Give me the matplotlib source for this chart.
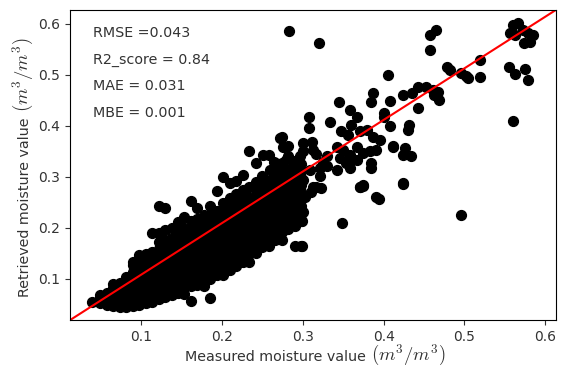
import matplotlib
matplotlib.use("Agg")
import matplotlib.pyplot as plt

plt.rcParams["mathtext.fontset"] = "cm"

# dense core of the cloud, one line per measured-value column
core_x = (
    [0.040]
    + [0.050] * 3
    + [0.058] * 3
    + [0.066] * 5
    + [0.074] * 5
    + [0.082] * 6
    + [0.090] * 8
    + [0.098] * 8
    + [0.106] * 8
    + [0.114] * 9
    + [0.122] * 11
    + [0.130] * 11
    + [0.138] * 10
    + [0.146] * 11
    + [0.154] * 11
    + [0.162] * 12
    + [0.170] * 11
    + [0.178] * 11
    + [0.186] * 12
    + [0.194] * 11
    + [0.202] * 12
    + [0.210] * 12
    + [0.218] * 12
    + [0.226] * 12
    + [0.234] * 12
    + [0.242] * 12
    + [0.250] * 11
    + [0.258] * 11
    + [0.266] * 11
    + [0.274] * 12
    + [0.282] * 11
    + [0.290] * 11
    + [0.298] * 10
)
core_y = [
    0.055,
    0.052, 0.062, 0.068,
    0.050, 0.060, 0.072,
    0.048, 0.058, 0.070, 0.082, 0.090,
    0.046, 0.056, 0.068, 0.080, 0.092,
    0.045, 0.058, 0.070, 0.084, 0.096, 0.104,
    0.047, 0.060, 0.072, 0.086, 0.100, 0.114, 0.128, 0.133,
    0.050, 0.062, 0.076, 0.090, 0.104, 0.118, 0.132, 0.146,
    0.052, 0.064, 0.078, 0.092, 0.106, 0.120, 0.134, 0.148,
    0.054, 0.068, 0.082, 0.096, 0.110, 0.124, 0.138, 0.152, 0.190,
    0.060, 0.074, 0.088, 0.102, 0.116, 0.130, 0.144, 0.158, 0.172, 0.190, 0.243,
    0.064, 0.078, 0.092, 0.106, 0.120, 0.134, 0.148, 0.162, 0.176, 0.196, 0.239,
    0.068, 0.082, 0.096, 0.110, 0.124, 0.138, 0.152, 0.166, 0.180, 0.200,
    0.072, 0.086, 0.100, 0.114, 0.128, 0.142, 0.156, 0.170, 0.184, 0.198, 0.212,
    0.070, 0.088, 0.102, 0.116, 0.130, 0.144, 0.158, 0.172, 0.186, 0.200, 0.222,
    0.056, 0.086, 0.100, 0.114, 0.128, 0.142, 0.156, 0.170, 0.184, 0.198, 0.214, 0.252,
    0.088, 0.102, 0.116, 0.130, 0.144, 0.158, 0.172, 0.186, 0.200, 0.218, 0.239,
    0.086, 0.100, 0.114, 0.128, 0.142, 0.156, 0.170, 0.184, 0.198, 0.212, 0.226,
    0.063, 0.100, 0.114, 0.128, 0.142, 0.156, 0.170, 0.184, 0.198, 0.212, 0.226, 0.243,
    0.108, 0.122, 0.136, 0.150, 0.164, 0.178, 0.192, 0.206, 0.220, 0.234, 0.272,
    0.108, 0.122, 0.136, 0.150, 0.164, 0.178, 0.192, 0.206, 0.220, 0.234, 0.248, 0.300,
    0.118, 0.132, 0.146, 0.160, 0.174, 0.188, 0.202, 0.216, 0.230, 0.244, 0.258, 0.288,
    0.126, 0.140, 0.154, 0.168, 0.182, 0.196, 0.210, 0.224, 0.238, 0.252, 0.266, 0.291,
    0.134, 0.148, 0.162, 0.176, 0.190, 0.204, 0.218, 0.232, 0.246, 0.260, 0.274, 0.304,
    0.134, 0.148, 0.162, 0.176, 0.190, 0.204, 0.218, 0.232, 0.246, 0.260, 0.280, 0.350,
    0.150, 0.164, 0.178, 0.192, 0.206, 0.220, 0.234, 0.248, 0.262, 0.276, 0.290, 0.327,
    0.163, 0.176, 0.190, 0.204, 0.218, 0.232, 0.246, 0.260, 0.274, 0.288, 0.302,
    0.165, 0.180, 0.194, 0.208, 0.222, 0.236, 0.250, 0.264, 0.278, 0.292, 0.343,
    0.176, 0.190, 0.204, 0.218, 0.232, 0.246, 0.260, 0.274, 0.288, 0.304, 0.327,
    0.176, 0.192, 0.206, 0.220, 0.234, 0.248, 0.262, 0.276, 0.290, 0.306, 0.327, 0.379,
    0.198, 0.212, 0.226, 0.240, 0.254, 0.268, 0.282, 0.296, 0.314, 0.340, 0.361,
    0.165, 0.204, 0.218, 0.232, 0.246, 0.260, 0.274, 0.288, 0.302, 0.318, 0.332,
    0.165, 0.214, 0.228, 0.242, 0.256, 0.270, 0.284, 0.298, 0.312, 0.326,
]

# looser points in the middle of the range
mid_x = [
    0.272, 0.276, 0.301, 0.311, 0.313, 0.301, 0.297, 0.342, 0.350, 0.358,
    0.346, 0.367, 0.383, 0.391, 0.412, 0.251, 0.264, 0.280, 0.260, 0.272,
    0.288, 0.330, 0.342, 0.356, 0.358, 0.385, 0.309, 0.321, 0.313, 0.323,
    0.371, 0.375, 0.424, 0.247, 0.260, 0.272, 0.284, 0.293, 0.301, 0.391,
    0.345, 0.358, 0.367, 0.360, 0.334, 0.308, 0.308, 0.348, 0.356, 0.371,
    0.379, 0.387, 0.395, 0.400, 0.408, 0.387, 0.385, 0.424, 0.430, 0.408,
    0.406, 0.400, 0.432, 0.412, 0.426, 0.434, 0.424, 0.385, 0.358, 0.354,
    0.367, 0.375, 0.317, 0.325, 0.330, 0.322, 0.303, 0.310, 0.295, 0.300,
]
mid_y = [
    0.376, 0.359, 0.366, 0.369, 0.353, 0.350, 0.340, 0.359, 0.353, 0.343,
    0.337, 0.359, 0.350, 0.353, 0.359, 0.343, 0.330, 0.333, 0.314, 0.317,
    0.320, 0.322, 0.314, 0.330, 0.317, 0.317, 0.314, 0.301, 0.281, 0.278,
    0.281, 0.284, 0.288, 0.288, 0.294, 0.288, 0.281, 0.271, 0.294, 0.261,
    0.446, 0.431, 0.418, 0.402, 0.408, 0.417, 0.395, 0.389, 0.382, 0.389,
    0.392, 0.379, 0.373, 0.418, 0.399, 0.464, 0.446, 0.461, 0.392, 0.448,
    0.500, 0.425, 0.402, 0.361, 0.356, 0.340, 0.343, 0.327, 0.340, 0.327,
    0.333, 0.346, 0.345, 0.330, 0.340, 0.318, 0.260, 0.270, 0.245, 0.232,
]

# upper-right points and outliers
high_x = [
    0.478, 0.482, 0.496, 0.502, 0.504, 0.519, 0.519, 0.555, 0.562, 0.575,
    0.578, 0.560, 0.467, 0.469, 0.462, 0.461, 0.443, 0.435, 0.443, 0.453,
    0.283, 0.3205, 0.457, 0.465, 0.457, 0.560, 0.566, 0.556, 0.562, 0.572,
    0.579, 0.585, 0.581, 0.574,
]
high_y = [
    0.516, 0.510, 0.503, 0.497, 0.494, 0.529, 0.495, 0.515, 0.502, 0.512,
    0.490, 0.410, 0.467, 0.451, 0.461, 0.471, 0.435, 0.464, 0.476, 0.476,
    0.585, 0.562, 0.578, 0.587, 0.549, 0.598, 0.601, 0.582, 0.578, 0.588,
    0.582, 0.578, 0.565, 0.562,
]
low_x = [0.371, 0.375, 0.424, 0.394, 0.496, 0.349, 0.2995, 0.2995, 0.317]
low_y = [0.280, 0.282, 0.286, 0.256, 0.225, 0.209, 0.214, 0.165, 0.280]

stats = ["RMSE =0.043", "R2_score = 0.84", "MAE = 0.031", "MBE = 0.001"]
unit = r"$(m^3/m^3)$"

x = core_x + mid_x + high_x + low_x
y = core_y + mid_y + high_y + low_y

W, H = 561, 367
fig = plt.figure(figsize=(W / 100, H / 100), dpi=100)
ax = fig.add_axes([0.125, 0.128, 0.866, 0.845])
ax.scatter(x, y, s=50, color="black")

ax.set_xlim(0.0127, 0.613)
ax.set_ylim(0.0196, 0.627)
xl = ax.get_xlim()
yl = ax.get_ylim()
ax.plot(xl, yl, color="red", lw=1.5)

for i, s in enumerate(stats):
    ax.text(0.047, 0.926 - i * 0.086, s, transform=ax.transAxes,
            fontsize=10.3, va="center", color="#333333")

ax.set_xticks([0.1, 0.2, 0.3, 0.4, 0.5, 0.6])
ax.set_yticks([0.1, 0.2, 0.3, 0.4, 0.5, 0.6])
ax.tick_params(labelsize=10, colors="#333333")

# axis labels: plain words plus a larger unit part
txt = dict(fontsize=10.3, color="#333333")
xt = fig.text(185 / W, 6 / H, "Measured moisture value", ha="left",
              va="baseline", **txt)
yt = fig.text(29 / W, 70 / H, "Retrieved moisture value", rotation=90,
              rotation_mode="anchor", ha="left", va="baseline", **txt)
fig.canvas.draw()
r = fig.canvas.get_renderer()
bx = xt.get_window_extent(r)
by = yt.get_window_extent(r)
fig.text((bx.x1 + 5) / W, 6 / H, unit, ha="left", va="baseline",
         fontsize=13.5, color="#333333")
fig.text(29 / W, (by.y1 + 5) / H, unit, rotation=90, rotation_mode="anchor",
         ha="left", va="baseline", fontsize=13.5, color="#333333")

fig.savefig("out.png", dpi=100)
